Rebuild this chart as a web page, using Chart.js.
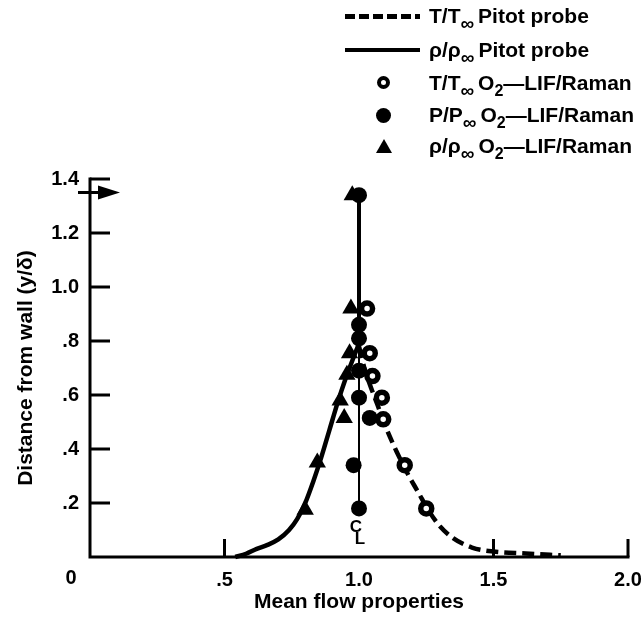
<!DOCTYPE html>
<html>
<head>
<meta charset="utf-8">
<script src="https://cdn.jsdelivr.net/npm/chart.js@4.4.1/dist/chart.umd.min.js"></script>
<style>
  body { margin: 0; background: #fff; }
  #wrap { position: relative; width: 644px; height: 619px; }
  #legend { position: absolute; left: 0; top: 0; font: bold 21px "Liberation Sans", Arial, sans-serif; color: #000; }
  .row { position: absolute; left: 345px; height: 30px; display: flex; align-items: center; white-space: nowrap; }
  .sample { width: 75px; height: 30px; position: relative; margin-right: 9px; flex: none; }
  .sample div { position: absolute; }
  .txt { display: block; line-height: 24px; }
  .dash { left: 0; top: 13px; width: 75px; height: 5px; background: repeating-linear-gradient(90deg, #000 0 10px, transparent 10px 14px); }
  .solid { left: 0; top: 13px; width: 75px; height: 4px; background: #000; }
  .open { left: 32px; top: 8px; width: 5px; height: 5px; border: 4px solid #000; border-radius: 50%; }
  .fill { left: 31px; top: 8px; width: 15px; height: 15px; background: #000; border-radius: 50%; }
  .tri { left: 31px; top: 8px; width: 0; height: 0; border-left: 8px solid transparent; border-right: 8px solid transparent; border-bottom: 14px solid #000; }
  sub { font-size: 16px; line-height: 0; vertical-align: -6px; }
  sub.inf { font-size: 19px; vertical-align: -7px; margin-right: 4px; }
</style>
</head>
<body>
<div id="wrap">
  <canvas id="chart" width="644" height="619"></canvas>
  <div id="legend">
    <div class="row" style="top:1px"><div class="sample"><div class="dash"></div></div><span class="txt">T/T<sub class="inf">∞</sub>Pitot probe</span></div>
    <div class="row" style="top:35px"><div class="sample"><div class="solid"></div></div><span class="txt">ρ/ρ<sub class="inf">∞</sub>Pitot probe</span></div>
    <div class="row" style="top:68px"><div class="sample"><div class="open"></div></div><span class="txt">T/T<sub class="inf">∞</sub>O<sub>2</sub>—LIF/Raman</span></div>
    <div class="row" style="top:100px"><div class="sample"><div class="fill"></div></div><span class="txt">P/P<sub class="inf">∞</sub>O<sub>2</sub>—LIF/Raman</span></div>
    <div class="row" style="top:131px"><div class="sample"><div class="tri"></div></div><span class="txt">ρ/ρ<sub class="inf">∞</sub>O<sub>2</sub>—LIF/Raman</span></div>
  </div>
</div>
<script>
// courbes sonde Pitot
const pitotTx = [1.0, 1.02, 1.04, 1.07, 1.10, 1.14, 1.18, 1.22, 1.26, 1.30, 1.35, 1.42, 1.50, 1.62, 1.75];
const pitotTy = [0.78, 0.70, 0.64, 0.56, 0.48, 0.39, 0.31, 0.24, 0.17, 0.115, 0.07, 0.035, 0.02, 0.013, 0.006];
const pitotRhoX = [0.54, 0.58, 0.62, 0.66, 0.70, 0.74, 0.77, 0.80, 0.83, 0.86, 0.89, 0.92, 0.95, 0.98, 1.0];
const pitotRhoY = [0.0, 0.012, 0.03, 0.045, 0.065, 0.10, 0.14, 0.20, 0.28, 0.37, 0.47, 0.57, 0.66, 0.74, 0.79];
// ligne verticale (écoulement libre) et ligne de pression
const freeX = [1.0, 1.0];
const freeY = [0.78, 1.36];
const pressLineX = [1.0, 1.0];
const pressLineY = [0.18, 0.78];
// mesures O2-LIF/Raman
const lifTx = [1.03, 1.04, 1.05, 1.085, 1.09, 1.17, 1.25];
const lifTy = [0.92, 0.755, 0.67, 0.59, 0.51, 0.34, 0.18];
const lifPx = [1.0, 1.0, 1.0, 1.0, 1.0, 1.04, 0.98, 1.0];
const lifPy = [1.34, 0.86, 0.81, 0.69, 0.59, 0.515, 0.34, 0.18];
const lifRhoX = [0.975, 0.97, 0.965, 0.955, 0.93, 0.945, 0.845, 0.80];
const lifRhoY = [1.34, 0.92, 0.755, 0.675, 0.58, 0.515, 0.35, 0.175];
// graduations
const xTickVals = [0, 0.5, 1.0, 1.5, 2.0];
const xTickLabels = ['', '.5', '1.0', '1.5', '2.0'];
const yTickVals = [0, 0.2, 0.4, 0.6, 0.8, 1.0, 1.2, 1.4];
const yTickLabels = ['', '.2', '.4', '.6', '.8', '1.0', '1.2', '1.4'];
const arrowY = 1.35;
const clY = 0.1;

const FONT = '"Liberation Sans", Arial, sans-serif';

function pts(xs, ys) {
  return xs.map((x, i) => ({ x: x, y: ys[i] }));
}

function labelFor(vals, labels, v) {
  const i = vals.findIndex(t => Math.abs(t - v) < 1e-6);
  return i >= 0 ? labels[i] : '';
}

// axes, graduations internes, flèche, symbole d'axe
const decor = {
  id: 'decor',
  beforeDatasetsDraw(chart) {
    const ctx = chart.ctx;
    const xs = chart.scales.x, ys = chart.scales.y;
    const x0 = xs.getPixelForValue(0), y0 = ys.getPixelForValue(0);
    ctx.save();
    ctx.strokeStyle = '#000';
    ctx.lineWidth = 3;
    ctx.lineCap = 'square';
    ctx.beginPath();
    ctx.moveTo(x0, ys.getPixelForValue(1.4));
    ctx.lineTo(x0, y0);
    ctx.lineTo(xs.getPixelForValue(2.0), y0);
    ctx.stroke();
    ctx.lineCap = 'butt';
    yTickVals.forEach(v => {
      if (v === 0) return;
      const py = ys.getPixelForValue(v);
      ctx.beginPath();
      ctx.moveTo(x0, py);
      ctx.lineTo(x0 + 20, py);
      ctx.stroke();
    });
    [0.5, 1.5, 2.0].forEach(v => {
      const px = xs.getPixelForValue(v);
      ctx.beginPath();
      ctx.moveTo(px, y0);
      ctx.lineTo(px, y0 - 18);
      ctx.stroke();
    });
    // flèche
    const ay = ys.getPixelForValue(arrowY);
    ctx.beginPath();
    ctx.moveTo(x0 - 12, ay);
    ctx.lineTo(x0 + 12, ay);
    ctx.stroke();
    ctx.fillStyle = '#000';
    ctx.beginPath();
    ctx.moveTo(x0 + 8, ay - 7);
    ctx.lineTo(x0 + 30, ay);
    ctx.lineTo(x0 + 8, ay + 7);
    ctx.closePath();
    ctx.fill();
    ctx.restore();
  },
  afterDraw(chart) {
    const ctx = chart.ctx;
    const xs = chart.scales.x, ys = chart.scales.y;
    const x0 = xs.getPixelForValue(0), y0 = ys.getPixelForValue(0);
    ctx.save();
    ctx.fillStyle = '#000';
    ctx.textAlign = 'center';
    ctx.textBaseline = 'middle';
    ctx.font = 'bold 20px ' + FONT;
    ctx.fillText('0', x0 - 19, y0 + 21);
    // symbole ℄
    const cx = xs.getPixelForValue(1.0), cy = ys.getPixelForValue(clY);
    ctx.font = 'bold 17px ' + FONT;
    ctx.fillText('C', cx - 3, cy - 3);
    ctx.fillText('L', cx + 1, cy + 9);
    ctx.restore();
  }
};

new Chart(document.getElementById('chart'), {
  type: 'scatter',
  data: {
    datasets: [
      { label: 'T/T∞ O2-LIF/Raman', data: pts(lifTx, lifTy), pointStyle: 'circle', pointRadius: 5.5, pointBorderWidth: 5.5,
        pointBorderColor: '#000', pointBackgroundColor: '#fff', order: 1 },
      { label: 'P/P∞ O2-LIF/Raman', data: pts(lifPx, lifPy), pointStyle: 'circle', pointRadius: 8, pointBorderWidth: 0,
        pointBackgroundColor: '#000', order: 2 },
      { label: 'ρ/ρ∞ O2-LIF/Raman', data: pts(lifRhoX, lifRhoY), pointStyle: 'triangle', pointRadius: 10, pointBorderWidth: 0,
        pointBackgroundColor: '#000', order: 3 },
      { label: 'T/T∞ Pitot probe', data: pts(pitotTx, pitotTy), showLine: true, borderColor: '#000', borderWidth: 4.5,
        borderDash: [12, 6], cubicInterpolationMode: 'monotone', pointRadius: 0, order: 4 },
      { label: 'ρ/ρ∞ Pitot probe', data: pts(pitotRhoX, pitotRhoY), showLine: true, borderColor: '#000', borderWidth: 4.5,
        cubicInterpolationMode: 'monotone', pointRadius: 0, order: 5 },
      { label: 'freestream', data: pts(freeX, freeY), showLine: true, borderColor: '#000', borderWidth: 4,
        pointRadius: 0, order: 6 },
      { label: 'pressure', data: pts(pressLineX, pressLineY), showLine: true, borderColor: '#000', borderWidth: 2,
        pointRadius: 0, order: 7 }
    ]
  },
  options: {
    responsive: false,
    animation: false,
    clip: false,
    layout: { padding: { top: 179, right: 16, left: 0, bottom: 0 } },
    plugins: { legend: { display: false }, tooltip: { enabled: false } },
    scales: {
      x: {
        type: 'linear', min: 0, max: 2,
        afterBuildTicks: s => { s.ticks = xTickVals.map(v => ({ value: v })); },
        afterFit: s => { s.height = 62; s.paddingLeft = 0; s.paddingRight = 0; },
        grid: { display: false, drawTicks: false },
        border: { display: false },
        ticks: {
          padding: 11, color: '#000', maxRotation: 0, autoSkip: false,
          font: { family: FONT, size: 20, weight: 'bold' },
          callback: v => labelFor(xTickVals, xTickLabels, v)
        },
        title: { display: true, text: 'Mean flow properties', color: '#000', padding: { top: 0, bottom: 4 },
          font: { family: FONT, size: 21, weight: 'bold' } }
      },
      y: {
        type: 'linear', min: 0, max: 1.4,
        afterBuildTicks: s => { s.ticks = yTickVals.map(v => ({ value: v })); },
        afterFit: s => { s.width = 90; s.paddingTop = 0; s.paddingBottom = 0; },
        grid: { display: false, drawTicks: false },
        border: { display: false },
        ticks: {
          padding: 11, color: '#000', autoSkip: false,
          font: { family: FONT, size: 20, weight: 'bold' },
          callback: v => labelFor(yTickVals, yTickLabels, v)
        },
        title: { display: true, text: 'Distance from wall (y/δ)', color: '#000', padding: { top: 14, bottom: 0 },
          font: { family: FONT, size: 21, weight: 'bold' } }
      }
    }
  },
  plugins: [decor]
});
</script>
</body>
</html>
